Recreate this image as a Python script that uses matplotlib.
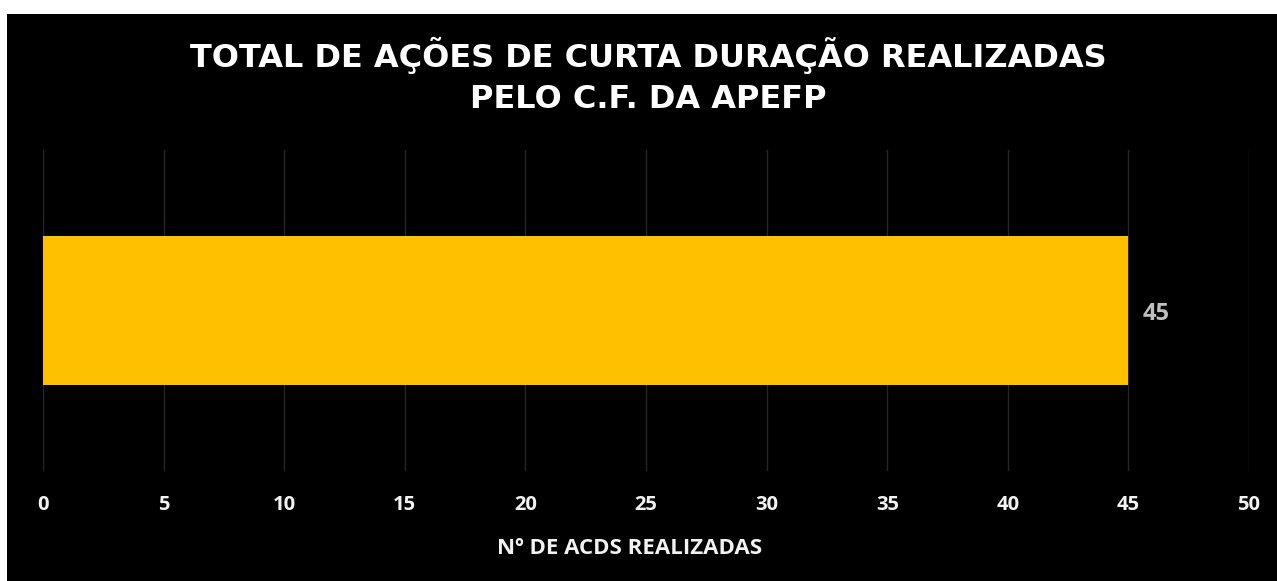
import matplotlib
matplotlib.use('Agg')
import matplotlib.pyplot as plt
from matplotlib.patches import Rectangle

# data
categories = ["Nº DE ACDS"]
values = [45]
xticks = [0, 5, 10, 15, 20, 25, 30, 35, 40, 45, 50]

title = "TOTAL DE AÇÕES DE CURTA DURAÇÃO REALIZADAS\nPELO C.F. DA APEFP"
xlabel = "Nº DE ACDS REALIZADAS"

W, H = 1277, 581
fig = plt.figure(figsize=(W / 100, H / 100), dpi=100, facecolor='white')

# black panel (white margin top and left as in reference)
fig.patches.append(Rectangle((7 / W, 0), 1 - 7 / W, 1 - 14 / H,
                             transform=fig.transFigure, facecolor='black',
                             edgecolor='none', zorder=-5))

ax = fig.add_axes([43 / W, 1 - 471 / H, (1249 - 43) / W, (471 - 150) / H])
ax.set_zorder(2)
ax.set_facecolor('black')
ax.barh(range(len(values)), values, height=0.464, color='#FFC000', zorder=3)
ax.set_ylim(-0.5, 0.5)
ax.set_xlim(0, 50)
ax.set_xticks(xticks)
ax.set_yticks([])
ax.grid(axis='x', color='#262626', lw=1.0, zorder=0)
for sp in ax.spines.values():
    sp.set_visible(False)
ax.tick_params(axis='x', length=0, pad=17, labelcolor='#F2F2F2')
for lbl in ax.get_xticklabels():
    lbl.set_fontfamily('Open Sans')
    lbl.set_fontweight('bold')
    lbl.set_fontsize(14.5)

for i, v in enumerate(values):
    ax.text(v + 0.6, i - 0.012, str(v), va='center', ha='left', color='#BFBFBF',
            fontsize=17, fontweight='bold', family='Open Sans')

fig.text(630 / W, 1 - 549 / H, xlabel, ha='center', va='center', color='#F2F2F2',
         fontsize=16, fontweight='bold', family='Open Sans')

fig.text(648 / W, 1 - 76 / H, title, ha='center', va='center', color='white',
         fontsize=23, fontweight='heavy', family='DejaVu Sans', linespacing=1.4)

fig.savefig('out.png', dpi=100, facecolor='white')
